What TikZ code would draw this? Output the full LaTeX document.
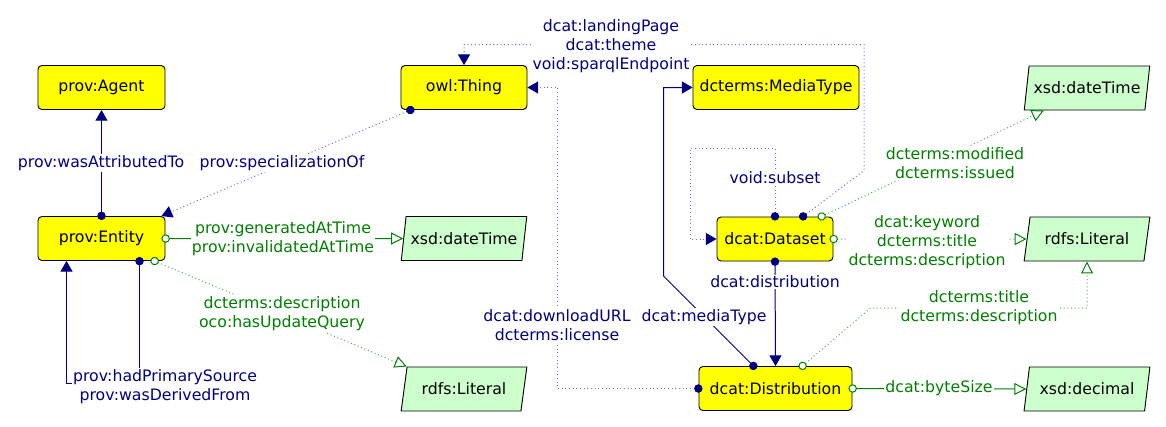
\documentclass[tikz,border=0pt]{standalone}
\usepackage{fontspec}
\setmainfont{DejaVu Sans}
\usetikzlibrary{arrows.meta,shapes.geometric,calc}
\definecolor{navyc}{RGB}{0,0,128}
\definecolor{greenc}{RGB}{0,128,0}
\definecolor{navyl}{RGB}{110,110,225}
\definecolor{greenl}{RGB}{80,170,80}
\definecolor{yel}{RGB}{255,255,0}
\definecolor{lgreen}{RGB}{204,255,204}
\begin{document}
\begin{tikzpicture}[x=0.75pt,y=-0.75pt,
  font=\fontsize{11.8}{14.4}\selectfont,
  cls/.style={draw=black, fill=yel, rounded corners=3pt, minimum height=33pt, inner sep=2pt, line width=0.7pt},
  lit/.style={trapezium, trapezium left angle=73, trapezium right angle=107, trapezium stretches=true,
    draw=black, fill=lgreen, minimum width=94.5pt, minimum height=33pt, inner sep=1pt, line width=0.7pt},
  nlbl/.style={fill=white, align=center, inner sep=1pt, text=navyc},
  glbl/.style={fill=white, align=center, inner sep=1pt, text=greenc},
  obj/.style={navyc, line width=0.75pt, shorten <=-3pt,
    {Circle[length=6.3pt]}-{Triangle[width=9pt,length=8pt]}},
  objd/.style={navyl, dotted, line width=0.75pt, shorten <=-3pt,
    {Circle[length=6.3pt,color=navyc]}-{Triangle[width=9pt,length=8pt,color=navyc]}},
  litc/.style={greenc, line width=0.75pt, shorten <=-3pt,
    {Circle[open,fill=white,length=6.3pt]}-{Triangle[open,fill=white,width=9pt,length=9pt]}},
  litd/.style={greenl, dotted, line width=0.75pt, shorten <=-3pt,
    {Circle[open,fill=white,length=6.3pt,color=greenc]}-{Triangle[open,fill=white,width=9pt,length=9pt,color=greenc]}}
]
\path[use as bounding box] (0,0) rectangle (1166,426);

% nodes
\node[cls, minimum width=95.25pt] (agent) at (101.5,87.5) {prov:Agent};
\node[cls, minimum width=94.5pt] (thing) at (464,87.5) {owl:Thing};
\node[cls, minimum width=124.5pt] (media) at (776,87.5) {dcterms:MediaType};
\node[lit] (xdt1) at (1087,88) {xsd:dateTime};
\node[cls, minimum width=95.25pt] (entity) at (101.5,238.5) {prov:Entity};
\node[lit] (xdt2) at (464,238.5) {xsd:dateTime};
\node[cls, minimum width=87pt] (dataset) at (775,239) {dcat:Dataset};
\node[lit] (lit1) at (1087,239) {rdfs:Literal};
\node[lit] (lit2) at (464,389) {rdfs:Literal};
\node[cls, minimum width=114.75pt] (dist) at (775.5,388.5) {dcat:Distribution};
\node[lit] (dec) at (1087,389) {xsd:decimal};

% connectors
\draw[obj] (entity.north) -- (agent.south);
\draw[objd] ($(thing.south west)+(10,0)$) -- ($(entity.north east)+(-4,0)$);
\draw[litc] (entity.east) -- (xdt2.west);
\draw[litd] ($(entity.south east)+(-11,0)$) -- (lit2.top left corner);
\draw[obj] ($(entity.south)+(38,0)$) -- ++(0,123) -| ($(entity.south)+(-35,0)$);
\draw[objd] (dist.west) -- ++(-141,0) |- (thing.east);
\draw[objd] ($(dataset.north)+(28,0)$) -- ++(61,-46) -- ++(0,-126) -| (thing.north);
\draw[objd] (dataset.north) -- ++(0,-68) -- ++(-85,0) |- (dataset.west);
\draw[obj] (dataset.south) -- (dist.north);
\draw[obj] ($(dist.north)+(-22,0)$) -- ++(-90,-90) |- (media.west);
\draw[litd] ($(dataset.north east)+(-12,0)$) -- ($(xdt1.bottom left corner)+(20,0)$);
\draw[litd] (dataset.east) -- (lit1.west);
\draw[litd] ($(dist.north east)+(-50,0)$) -- ++(68,-58) -| (lit1.south);
\draw[litc] (dist.east) -- (dec.west);

% labels
\node[nlbl] (l1) at (101,163) {prov:wasAttributedTo};
\node[nlbl] (l2) at (282,163) {prov:specializationOf};
\node[glbl] (l3) at (283,239) {prov:generatedAtTime\\prov:invalidatedAtTime};
\node[glbl] (l4) at (282,314) {dcterms:description\\oco:hasUpdateQuery};
\node[nlbl] (l5) at (165,387) {prov:hadPrimarySource\\prov:wasDerivedFrom};
\node[nlbl] (l6) at (611,46) {dcat:landingPage\\dcat:theme\\void:sparqlEndpoint};
\node[nlbl] (l7) at (775,178) {void:subset};
\node[glbl] (l8) at (955,163) {dcterms:modified\\dcterms:issued};
\node[glbl] (l9) at (927,242) {dcat:keyword\\dcterms:title\\dcterms:description};
\node[nlbl] (l10) at (775,282) {dcat:distribution};
\node[nlbl] (l11) at (704,317) {dcat:mediaType};
\node[nlbl] (l12) at (557,325) {dcat:downloadURL\\dcterms:license};
\node[glbl] (l13) at (979,308) {dcterms:title\\dcterms:description};
\node[glbl] (l14) at (939,388) {dcat:byteSize};
\end{tikzpicture}
\end{document}
